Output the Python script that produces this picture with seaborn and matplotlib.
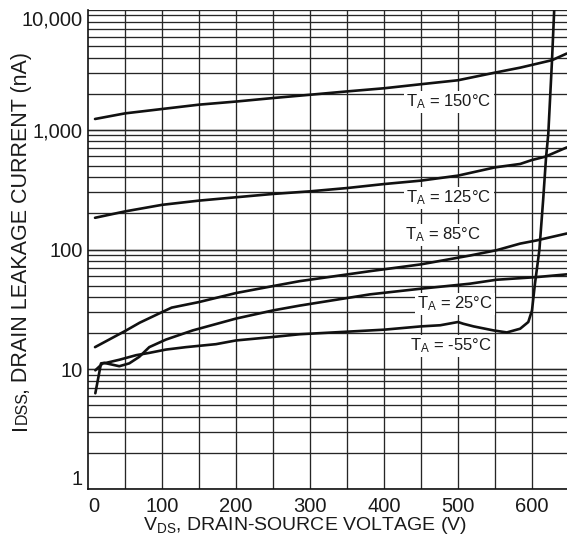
import numpy as np
import pandas as pd
import matplotlib
matplotlib.use("Agg")
import matplotlib.pyplot as plt
from matplotlib.ticker import FixedLocator, NullFormatter
from matplotlib.transforms import IdentityTransform
import seaborn as sns

# Drain leakage current vs drain-source voltage, one curve per ambient temperature
temps = ["150°C", "125°C", "85°C", "25°C", "-55°C"]

v_150 = [9.5, 50, 100, 150, 200, 250, 300, 350, 400, 450, 500, 550, 584, 600, 627, 647]
i_150 = [1230, 1370, 1490, 1620, 1720, 1840, 1960, 2090, 2220, 2400, 2590, 3000, 3300, 3480, 3810, 4330]

v_125 = [9.5, 50, 100, 150, 200, 250, 300, 350, 400, 450, 500, 550, 584, 600, 618, 647]
i_125 = [184, 208, 236, 256, 273, 291, 306, 326, 352, 376, 414, 485, 518, 559, 596, 712]

v_85 = [9.5, 51, 70, 100, 113, 150, 200, 250, 286, 381, 449, 516, 552, 584, 606, 647]
i_85 = [15.3, 21.0, 24.5, 30, 32.7, 36.4, 43.3, 49.5, 54.4, 65.9, 75, 89, 98.6, 112, 119, 136]

v_25 = [9.9, 17.6, 22, 42.3, 55.8, 69.3, 82.8, 105.4, 141.5, 200, 250, 286, 381, 449, 516, 552, 606, 647]
i_25 = [6.3, 11.2, 11.3, 10.6, 11.2, 12.7, 15.3, 17.7, 21.1, 26.5, 31, 34, 42.2, 47, 51.8, 55.9, 58.8, 62]

v_m55 = [9.9, 19.9, 24.3, 42.3, 64.9, 82.8, 105.4, 132.4, 173, 200, 250, 286, 400, 450, 476,
         500, 507, 521, 548, 566, 584, 595, 600, 604, 610, 615, 619, 622, 627, 630]
i_m55 = [9.8, 11.2, 11.3, 12.0, 13.1, 13.7, 14.6, 15.3, 16.2, 17.4, 18.6, 19.6, 21.4, 22.8, 23.3,
         24.8, 24.0, 22.8, 21.1, 20.3, 21.8, 24.8, 31, 51.8, 99.5, 256, 589, 920, 3758, 10000]

y_ticks = [1, 10, 100, 1000, 10000]
y_tick_labels = ["1", "10", "100", "1,000", "10,000"]
x_ticks = [0, 100, 200, 300, 400, 500, 600]
x_tick_labels = ["0", "100", "200", "300", "400", "500", "600"]

series = [(v_150, i_150), (v_125, i_125), (v_85, i_85), (v_25, i_25), (v_m55, i_m55)]
frames = []
for name, (v, i) in zip(temps, series):
    frames.append(pd.DataFrame({"vds": v, "idss": i, "temp": name}))
df = pd.concat(frames, ignore_index=True)

sns.set_theme(style="white")
plt.rcParams["font.family"] = ["Liberation Sans", "DejaVu Sans"]
plt.rcParams["mathtext.fontset"] = "custom"
plt.rcParams["mathtext.rm"] = "Liberation Sans"
plt.rcParams["mathtext.it"] = "Liberation Sans"

W, H = 567, 539
fig = plt.figure(figsize=(W / 100, H / 100), dpi=100)
left, right, top, bottom = 88, 567, 10, 489
ax = fig.add_axes([left / W, 1 - bottom / H, (right - left) / W, (bottom - top) / H])

ax.set_yscale("log")
ax.set_xlim(0, 647.3)
ax.set_ylim(1, 10000)

# grid: every 50 V and every log minor step
grid_c = "#262626"
for xv in range(50, 650, 50):
    ax.axvline(xv, color=grid_c, lw=0.95, zorder=1)
for dec in [1, 10, 100, 1000]:
    for m in range(1, 11):
        ax.axhline(dec * m, color=grid_c, lw=0.95, zorder=1)

for name in temps:
    sub = df[df["temp"] == name]
    sns.lineplot(data=sub, x="vds", y="idss", ax=ax, color="#111111", lw=1.9,
                 estimator=None, sort=False, legend=False, zorder=3)

ax.set_xlabel("")
ax.set_ylabel("")

for s in ["top", "right"]:
    ax.spines[s].set_visible(False)
for s in ["left", "bottom"]:
    ax.spines[s].set_color("#111111")
    ax.spines[s].set_linewidth(1.2)

ax.yaxis.set_major_locator(FixedLocator(y_ticks))
ax.yaxis.set_minor_formatter(NullFormatter())
ax.set_yticks(y_ticks)
ax.set_yticklabels(y_tick_labels)
ax.set_xticks(x_ticks)
ax.set_xticklabels(x_tick_labels)
ax.tick_params(axis="both", which="both", length=0, labelsize=14.5, colors="#1a1a1a")
ax.tick_params(axis="x", pad=6)
ax.tick_params(axis="y", pad=4)

xt = ax.get_xticklabels()
xt[0].set_horizontalalignment("left")
yt = ax.get_yticklabels()
yt[0].set_verticalalignment("bottom")
yt[-1].set_verticalalignment("top")

# curve labels
label_pos = {
    "150°C": (449, 102),
    "125°C": (449, 198),
    "85°C": (443, 235),
    "25°C": (455, 304),
    "-55°C": (451, 346),
}
for name, (px, py) in label_pos.items():
    ax.text(px / W, 1 - py / H, r"T$_\mathregular{A}$ = " + name, transform=fig.transFigure,
            ha="center", va="center", fontsize=12, color="#1a1a1a", zorder=4,
            bbox=dict(facecolor="white", edgecolor="none", pad=1.5))

fig.text(305 / W, 1 - 530 / H, r"V$_\mathregular{DS}$, DRAIN-SOURCE VOLTAGE (V)",
         ha="center", va="baseline", fontsize=14, color="#1a1a1a")

# rotated y title built from pieces so the small "DSS" shares the baseline of "I"
renderer = fig.canvas.get_renderer()
pieces = [("I", 15.5, 0.5), ("DSS", 11.5, -2.5), (", DRAIN LEAKAGE CURRENT (nA)", 15.5, 0)]
texts = []
for s, fs, _ in pieces:
    t = fig.text(0, 0, s, transform=IdentityTransform(), rotation=90, rotation_mode="anchor",
                 ha="left", va="baseline", fontsize=fs, color="#1a1a1a")
    texts.append(t)
lengths = [t.get_window_extent(renderer).height + adj for t, (_, _, adj) in zip(texts, pieces)]
total = sum(lengths)
base_x = 26.5
y0 = (H - 241) - total / 2
for t, ln in zip(texts, lengths):
    t.set_position((base_x, y0))
    y0 += ln

fig.savefig("out.png", dpi=100, facecolor="white")
